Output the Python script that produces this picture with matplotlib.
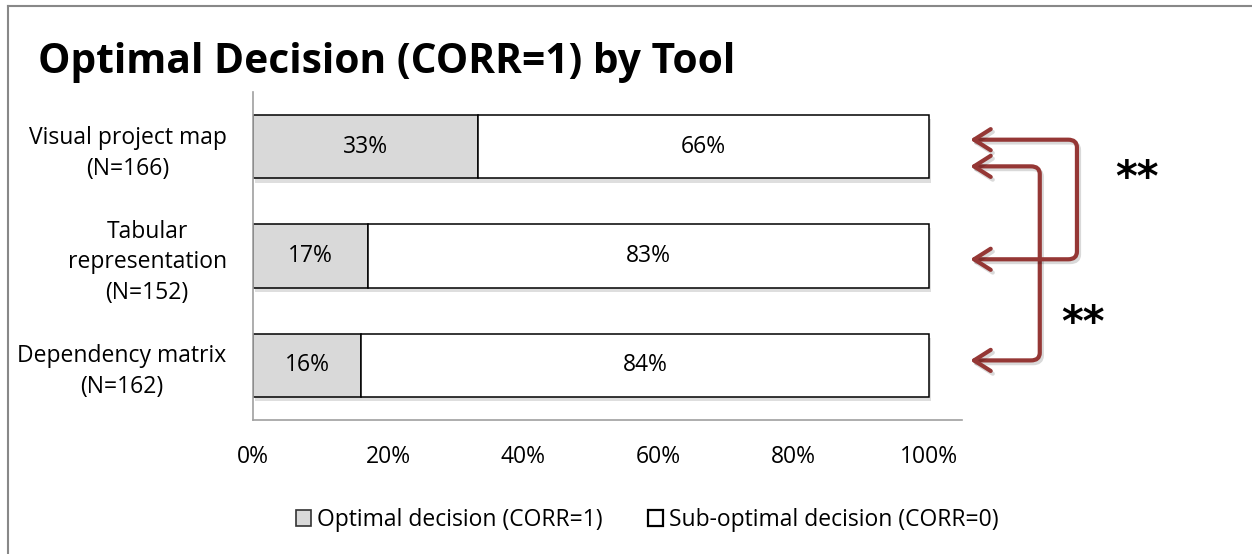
import matplotlib.pyplot as plt
import matplotlib.patheffects as pe
from matplotlib.lines import Line2D
from matplotlib.patches import FancyArrowPatch, Patch
from matplotlib.path import Path


tools = ["Visual project map\n(N=166)", "Tabular\nrepresentation\n(N=152)", "Dependency matrix\n(N=162)"]
optimal = [33, 17, 16]
sub_optimal = [66, 83, 84]
x_ticks = [0, 20, 40, 60, 80, 100]
series_names = ["Optimal decision (CORR=1)", "Sub-optimal decision (CORR=0)"]

ARROW_COLOR = "#953735"
GRAY = "#d9d9d9"
FS = 16.5


def bracket_arrow(ax, x_tip, x_bar, y_top, y_bottom, rx=1.3, ry=0.07):
    verts = [
        (x_tip, y_top), (x_bar - rx, y_top), (x_bar, y_top), (x_bar, y_top + ry),
        (x_bar, y_bottom - ry), (x_bar, y_bottom), (x_bar - rx, y_bottom), (x_tip, y_bottom),
    ]
    codes = [Path.MOVETO, Path.LINETO, Path.CURVE3, Path.CURVE3,
             Path.LINETO, Path.CURVE3, Path.CURVE3, Path.LINETO]
    arrow = FancyArrowPatch(
        path=Path(verts, codes),
        arrowstyle="<->,head_length=0.6,head_width=0.38",
        mutation_scale=20,
        color=ARROW_COLOR,
        linewidth=3,
        joinstyle="round",
        capstyle="round",
        clip_on=False,
        transform=ax.transData,
    )
    arrow.set_path_effects([
        pe.SimpleLineShadow(offset=(1.5, -2), shadow_color="black", alpha=0.15),
        pe.Normal(),
    ])
    ax.add_patch(arrow)


def main():
    plt.rcParams["font.family"] = ["Open Sans", "DejaVu Sans"]

    fig = plt.figure(figsize=(12.52, 5.54), dpi=100)
    ax = fig.add_axes([0.2021, 0.2419, 0.5663, 0.592])

    # 100% stacked, as in the spreadsheet
    totals = [a + b for a, b in zip(optimal, sub_optimal)]
    opt_share = [a / t * 100 for a, t in zip(optimal, totals)]
    sub_share = [b / t * 100 for b, t in zip(sub_optimal, totals)]
    ypos = list(range(len(tools)))

    b1 = ax.barh(ypos, opt_share, height=0.58, color=GRAY, edgecolor="black", linewidth=1.1)
    b2 = ax.barh(ypos, sub_share, left=opt_share, height=0.58, color="white",
                 edgecolor="black", linewidth=1.1)

    shadow = [pe.SimplePatchShadow(offset=(1.5, -3), shadow_rgbFace="black", alpha=0.13), pe.Normal()]
    for p in list(b1.patches) + list(b2.patches):
        p.set_path_effects(shadow)

    ax.bar_label(b1, labels=[f"{v}%" for v in optimal], label_type="center", fontsize=FS)
    ax.bar_label(b2, labels=[f"{v}%" for v in sub_optimal], label_type="center", fontsize=FS)

    ax.set_xlim(0, 104.9)
    ax.set_ylim(2.5, -0.5)
    ax.set_xticks(x_ticks)
    ax.set_xticklabels([f"{t}%" for t in x_ticks])
    ax.set_yticks(ypos)
    ax.set_yticklabels(tools)
    for lab in ax.get_yticklabels():
        lab.set_multialignment("center")
        lab.set_linespacing(1.38)

    ax.tick_params(axis="both", length=0, labelsize=FS)
    ax.tick_params(axis="x", pad=18)
    ax.tick_params(axis="y", pad=19)

    for side in ["top", "right"]:
        ax.spines[side].set_visible(False)
    for side in ["left", "bottom"]:
        ax.spines[side].set_color("#a0a0a0")
        ax.spines[side].set_linewidth(1.2)

    # significance brackets
    bracket_arrow(ax, 106.1, 116.4, 0.18, 1.955)
    bracket_arrow(ax, 106.1, 121.9, -0.064, 1.03)

    ax.text(130.8, 0.30, "**", fontsize=30, fontweight="bold", ha="center", va="center",
            family="DejaVu Sans", clip_on=False)
    ax.text(122.8, 1.625, "**", fontsize=30, fontweight="bold", ha="center", va="center",
            family="DejaVu Sans", clip_on=False)

    fig.text(38 / 1252, 1 - 73 / 554, "Optimal Decision (CORR=1) by Tool",
             fontsize=29.3, fontweight="bold", va="baseline")

    handles = [
        Patch(facecolor=GRAY, edgecolor="#333333", linewidth=1.2),
        Patch(facecolor="white", edgecolor="black", linewidth=1.6),
    ]
    fig.legend(handles=handles, labels=series_names, loc="center",
               bbox_to_anchor=(0.517, 1 - 520 / 554), ncol=2, frameon=False, fontsize=FS,
               handlelength=0.65, handleheight=0.65, handletextpad=0.25, columnspacing=2.0)

    # chart frame (only top and left edges fall inside the image)
    fig.add_artist(Line2D([8 / 1252, 1], [1 - 6 / 554] * 2, color="#888888", linewidth=1.5))
    fig.add_artist(Line2D([8 / 1252] * 2, [0, 1 - 6 / 554], color="#888888", linewidth=1.5))

    fig.savefig("out.png", dpi=100)
    plt.close(fig)


if __name__ == "__main__":
    main()
